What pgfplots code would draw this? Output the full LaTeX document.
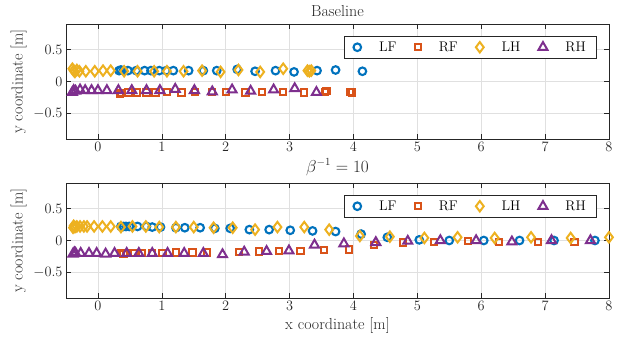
\documentclass[border=0pt]{standalone}
\usepackage{pgfplots}
\pgfplotsset{compat=1.18}
\definecolor{cLF}{rgb}{0,0.447,0.741}
\definecolor{cRF}{rgb}{0.85,0.325,0.098}
\definecolor{cLH}{rgb}{0.929,0.694,0.125}
\definecolor{cRH}{rgb}{0.494,0.184,0.556}
\definecolor{axc}{rgb}{0.15,0.15,0.15}
\pgfplotsset{
  footstyle/.style={
    scale only axis, width=543bp, height=115bp,
    xmin=-0.5, xmax=8, ymin=-0.9, ymax=0.9,
    xtick={0,1,...,8}, ytick={-0.5,0,0.5},
    tick pos=both, tick align=inside,
    major tick length=5bp,
    grid=major, grid style={color=black!12, line width=0.5bp},
    axis line style={color=axc, line width=0.6bp},
    tick style={color=axc, line width=0.6bp},
    tick label style={font=\fontsize{14}{16}\selectfont, color=axc},
    label style={font=\fontsize{16}{18}\selectfont, color=axc},
    title style={font=\fontsize{16}{18}\selectfont, color=axc, yshift=-2bp},
    clip=false,
    legend columns=4,
    legend style={font=\fontsize{14}{16}\selectfont, draw=axc, line width=0.6bp,
      anchor=north east, inner xsep=9bp, inner ysep=3.5bp,
      /tikz/every odd column/.append style={column sep=16bp},
      /tikz/every even column/.append style={column sep=16bp}},
    legend cell align=left,
  },
  pLF/.style={only marks, mark=o, mark size=3.8bp, line width=2.1bp, color=cLF, mark options={line width=2.1bp}},
  pRF/.style={only marks, mark=square, mark size=3.2bp, line width=2bp, color=cRF, mark options={line width=2bp}},
  pLH/.style={only marks, mark=diamond, mark size=5.2bp, line width=2bp, color=cLH, mark options={line width=2bp}},
  pRH/.style={only marks, mark=triangle, mark size=5.2bp, line width=2bp, color=cRH, mark options={line width=2bp}},
}
\begin{document}
\begin{tikzpicture}
\useasboundingbox (0,0) rectangle (626bp,345bp);
\begin{axis}[footstyle, at={(66bp,206bp)}, anchor=south west,
  title={Baseline}, ylabel={y coordinate [m]},
  legend style={at={(0.978,0.896)}}]
\addplot[pLF] coordinates {(0.33,0.17)(0.36,0.18)(0.40,0.17)(0.47,0.17)(0.6,0.17)(0.73,0.17)(0.83,0.17)(0.96,0.17)(1.07,0.17)(1.18,0.17)(1.42,0.17)(1.65,0.17)(1.86,0.17)(2.18,0.19)(2.46,0.16)(2.78,0.17)(3.07,0.15)(3.43,0.17)(3.72,0.18)(4.14,0.16)};
\addplot[pRF] coordinates {(0.35,-0.20)(0.37,-0.18)(0.48,-0.17)(0.61,-0.17)(0.76,-0.17)(0.9,-0.17)(1.08,-0.16)(1.31,-0.17)(1.52,-0.16)(1.79,-0.16)(2.0,-0.16)(2.31,-0.17)(2.57,-0.16)(2.9,-0.16)(3.23,-0.17)(3.55,-0.16)(3.58,-0.15)(3.95,-0.16)(3.98,-0.17)};
\addplot[pLH] coordinates {(-0.40,0.20)(-0.38,0.17)(-0.36,0.15)(-0.33,0.18)(-0.29,0.16)(-0.19,0.16)(-0.05,0.16)(0.08,0.17)(0.2,0.17)(0.41,0.16)(0.62,0.16)(0.88,0.16)(1.08,0.16)(1.34,0.16)(1.63,0.17)(1.92,0.15)(2.20,0.18)(2.54,0.15)(2.90,0.20)(3.28,0.17)(3.31,0.16)(3.34,0.17)};
\addplot[pRH] coordinates {(-0.40,-0.17)(-0.38,-0.14)(-0.35,-0.15)(-0.28,-0.13)(-0.2,-0.14)(-0.1,-0.14)(0.0,-0.14)(0.14,-0.14)(0.32,-0.14)(0.53,-0.14)(0.76,-0.14)(0.97,-0.14)(1.21,-0.12)(1.51,-0.14)(1.79,-0.16)(2.1,-0.13)(2.39,-0.15)(2.75,-0.13)(3.08,-0.11)(3.42,-0.17)};
\legend{LF,RF,LH,RH}
\end{axis}
\begin{axis}[footstyle, at={(66bp,47bp)}, anchor=south west,
  title={$\beta^{-1}=10$}, ylabel={y coordinate [m]}, xlabel={x coordinate [m]},
  legend style={at={(0.978,0.896)}}]
\addplot[pLF] coordinates {(0.36,0.22)(0.40,0.22)(0.44,0.22)(0.49,0.22)(0.62,0.22)(0.76,0.22)(0.85,0.21)(0.98,0.21)(1.22,0.2)(1.36,0.2)(1.6,0.2)(1.83,0.19)(2.07,0.19)(2.37,0.17)(2.68,0.17)(3.01,0.16)(3.36,0.15)(3.72,0.14)(4.12,0.10)(4.53,0.05)(5.03,0.01)(5.5,0.0)(6.04,0.0)(6.6,0.0)(7.14,0.0)(7.78,0.0)};
\addplot[pRF] coordinates {(0.36,-0.20)(0.40,-0.21)(0.44,-0.20)(0.46,-0.20)(0.56,-0.20)(0.69,-0.20)(0.85,-0.20)(1.01,-0.20)(1.22,-0.19)(1.48,-0.19)(1.71,-0.19)(2.21,-0.18)(2.52,-0.17)(2.83,-0.16)(3.17,-0.16)(3.54,-0.15)(3.93,-0.14)(4.32,-0.07)(4.78,-0.03)(5.26,-0.02)(5.79,-0.01)(6.28,-0.02)(6.89,-0.02)(7.46,-0.02)};
\addplot[pLH] coordinates {(-0.39,0.20)(-0.38,0.23)(-0.36,0.21)(-0.33,0.22)(-0.28,0.22)(-0.22,0.22)(-0.17,0.22)(-0.06,0.22)(0.07,0.22)(0.2,0.22)(0.36,0.21)(0.54,0.22)(0.75,0.22)(0.96,0.21)(1.22,0.21)(1.5,0.21)(1.81,0.2)(2.11,0.2)(2.46,0.17)(2.81,0.21)(3.23,0.21)(3.62,0.17)(4.10,0.07)(4.57,0.06)(5.11,0.04)(5.63,0.05)(6.21,0.04)(6.78,0.05)(7.40,0.04)(8.0,0.05)};
\addplot[pRH] coordinates {(-0.39,-0.21)(-0.37,-0.19)(-0.35,-0.20)(-0.27,-0.20)(-0.14,-0.20)(-0.02,-0.20)(0.12,-0.21)(0.26,-0.20)(0.45,-0.20)(0.64,-0.20)(0.85,-0.20)(1.09,-0.20)(1.35,-0.20)(1.65,-0.20)(1.95,-0.22)(2.29,-0.18)(2.64,-0.17)(2.99,-0.16)(3.39,-0.07)(3.85,-0.05)(4.35,-0.03)(4.85,-0.01)(5.36,0.0)(5.92,0.0)(6.48,-0.02)(7.10,0.0)(7.71,0.0)};
\legend{LF,RF,LH,RH}
\end{axis}
\end{tikzpicture}
\end{document}
